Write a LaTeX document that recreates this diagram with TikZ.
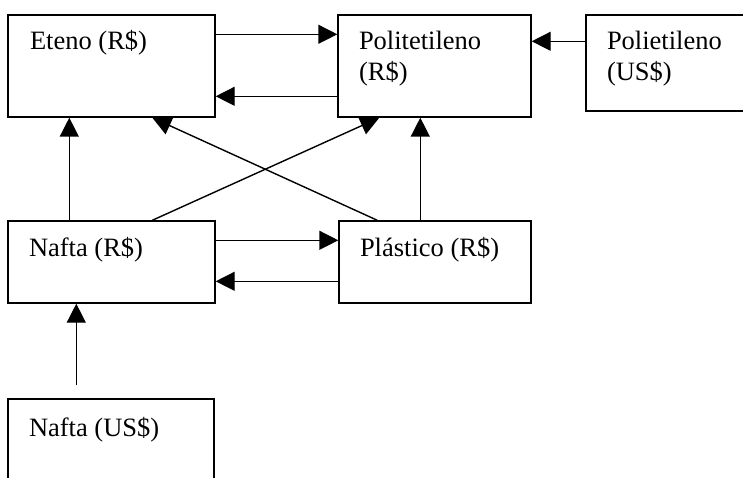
\documentclass[tikz,border=0pt]{standalone}
\usepackage{fontspec}
\setmainfont{Liberation Serif}
\usetikzlibrary{arrows.meta}

\begin{document}
\begin{tikzpicture}[x=1pt,y=-1pt,>={Triangle[length=19pt,width=19pt]},line width=1.4pt,
        caixa/.style={draw,inner sep=0pt},
        rotulo/.style={anchor=base west,inner sep=0pt,align=left,font=\fontsize{26.5}{31}\selectfont}]
        \clip (0,0) rectangle (743,478);
        % caixas
        \node[caixa,minimum width=207pt,minimum height=102pt] (eteno) at (111.5,66) {};
        \node[caixa,minimum width=193pt,minimum height=102pt] (polR) at (434.5,66) {};
        \node[caixa,minimum width=180pt,minimum height=96pt] (polUS) at (676,63) {};
        \node[caixa,minimum width=207pt,minimum height=82pt] (naftaR) at (111.5,262) {};
        \node[caixa,minimum width=192pt,minimum height=82pt] (plast) at (435,262) {};
        \node[caixa,minimum width=206pt,minimum height=91pt] (naftaUS) at (111,444.5) {};
        % textos (base = ultima linha)
        \node[rotulo] (tEteno) at ([xshift=22pt,yshift=-35.7pt]eteno.north west) {Eteno (R\$)};
        \node[rotulo] (tPolR) at ([xshift=21pt,yshift=-66.7pt]polR.north west) {Politetileno\\(R\$)};
        \node[rotulo] (tPolUS) at ([xshift=21pt,yshift=-66.7pt]polUS.north west) {Polietileno\\(US\$)};
        \node[rotulo] (tNaftaR) at ([xshift=21pt,yshift=-36pt]naftaR.north west) {Nafta (R\$)};
        \node[rotulo] (tPlast) at ([xshift=21pt,yshift=-36pt]plast.north west) {Plástico (R\$)};
        \node[rotulo] (tNaftaUS) at ([xshift=21pt,yshift=-37.7pt]naftaUS.north west) {Nafta (US\$)};
        % setas
        \draw[->] ([yshift=-20pt]eteno.north east) -- ([yshift=-20pt]polR.north west);
        \draw[->] ([yshift=-82pt]polR.north west) -- ([yshift=-82pt]eteno.north east);
        \draw[->] ([yshift=-27pt]polUS.north west) -- ([yshift=-27pt]polR.north east);
        \draw[->] ([xshift=62pt]naftaR.north west) -- ([xshift=62pt]eteno.south west);
        \draw[->] ([xshift=82pt]plast.north west) -- ([xshift=83pt]polR.south west);
        \draw[->] ([xshift=145pt]naftaR.north west) -- ([xshift=42pt]polR.south west);
        \draw[->] ([xshift=39pt]plast.north west) -- ([xshift=145pt]eteno.south west);
        \draw[->] ([yshift=-20pt]naftaR.north east) -- ([yshift=-20pt]plast.north west);
        \draw[->] ([yshift=-61pt]plast.north west) -- ([yshift=-61pt]naftaR.north east);
        \coordinate (inicio) at ([xshift=69pt,yshift=13pt]naftaUS.north west);
        \draw[->] (inicio) -- ([xshift=69pt]naftaR.south west);
    \end{tikzpicture}
\end{document}
